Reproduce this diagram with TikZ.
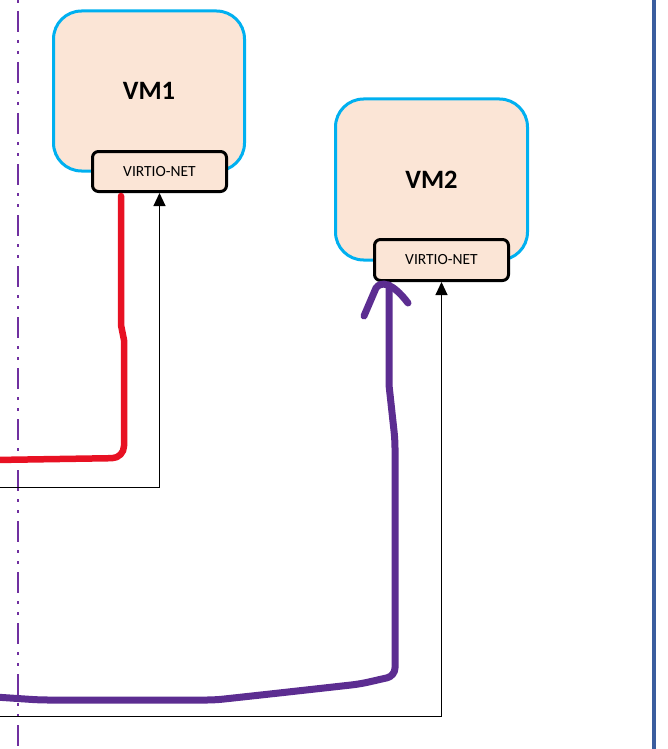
\documentclass[tikz,border=0pt]{standalone}
\usepackage{fontspec}
\setmainfont{Carlito}
\usetikzlibrary{arrows.meta}
\definecolor{vmfill}{RGB}{251,229,214}
\definecolor{vmblue}{RGB}{0,176,240}
\definecolor{redline}{RGB}{232,17,35}
\definecolor{purpthick}{RGB}{92,45,145}
\definecolor{purpdash}{RGB}{112,48,160}
\definecolor{sideblue}{RGB}{58,93,158}
\tikzset{
  vmbox/.style={draw=vmblue, fill=vmfill, line width=3pt, rounded corners=28pt, minimum width=#1, minimum height=160pt, inner sep=0pt, font=\fontsize{26.5}{30}\selectfont\bfseries},
  netbox/.style={draw=black, fill=vmfill, line width=3pt, rounded corners=6pt, minimum width=134pt, minimum height=40pt, inner sep=0pt, font=\fontsize{15.5}{18}\selectfont},
  thinarrow/.style={draw=black, line width=1pt, -{Triangle[width=12pt,length=13pt]}},
  redpath/.style={draw=redline, line width=6.5pt, line cap=round, line join=round},
  purppath/.style={draw=purpthick, line width=7pt, line cap=round, line join=round},
  dashdotline/.style={draw=purpdash, line width=2.6pt, dash pattern=on 21pt off 8pt on 3pt off 8pt on 3pt off 8pt},
  sideline/.style={draw=sideblue, line width=3.5pt}
}
\begin{document}
\begin{tikzpicture}[x=1pt,y=-1pt]
\useasboundingbox (0,0) rectangle (667,749);
% vertical lines
\coordinate (dtop) at (18,-40);
\coordinate (dbot) at (18,760);
\draw[dashdotline] (dtop) -- (dbot);
\coordinate (btop) at (654,0);
\coordinate (bbot) at (654,749);
\draw[sideline] (btop) -- (bbot);
% VMs
\node[vmbox=191pt] (vm1) at (149,91) {VM1};
\node[netbox] (n1) at (159.5,171.5) {VIRTIO-NET};
\node[vmbox=192pt, minimum height=161pt] (vm2) at (431.5,179.5) {VM2};
\node[netbox, minimum height=41pt] (n2) at (441.5,260) {VIRTIO-NET};
% thin arrows
\coordinate (in1) at (0,487);
\coordinate (in2) at (0,716);
\draw[thinarrow] (in1) -| (n1.south);
\draw[thinarrow] (in2) -| (n2.south);
% red path
\coordinate (r0) at (121,196);
\coordinate (rend) at (-5,460);
\draw[redpath] (r0) -- (121,325) -- (124,340) [rounded corners=12pt] -- (124,458) -- (rend);
% purple path
\coordinate (pend) at (-5,697);
\coordinate (ptip) at (389,285);
\draw[purppath, rounded corners=8pt] (pend) -- (40,700) -- (215,700) -- (270,694) -- (360,684) -- (395,676) -- (395,440) [sharp corners] -- (389,385) -- (ptip);
\draw[purppath] (364,316) -- (376,288) .. controls (381,281) and (392,282) .. (408,303);
\end{tikzpicture}
\end{document}
